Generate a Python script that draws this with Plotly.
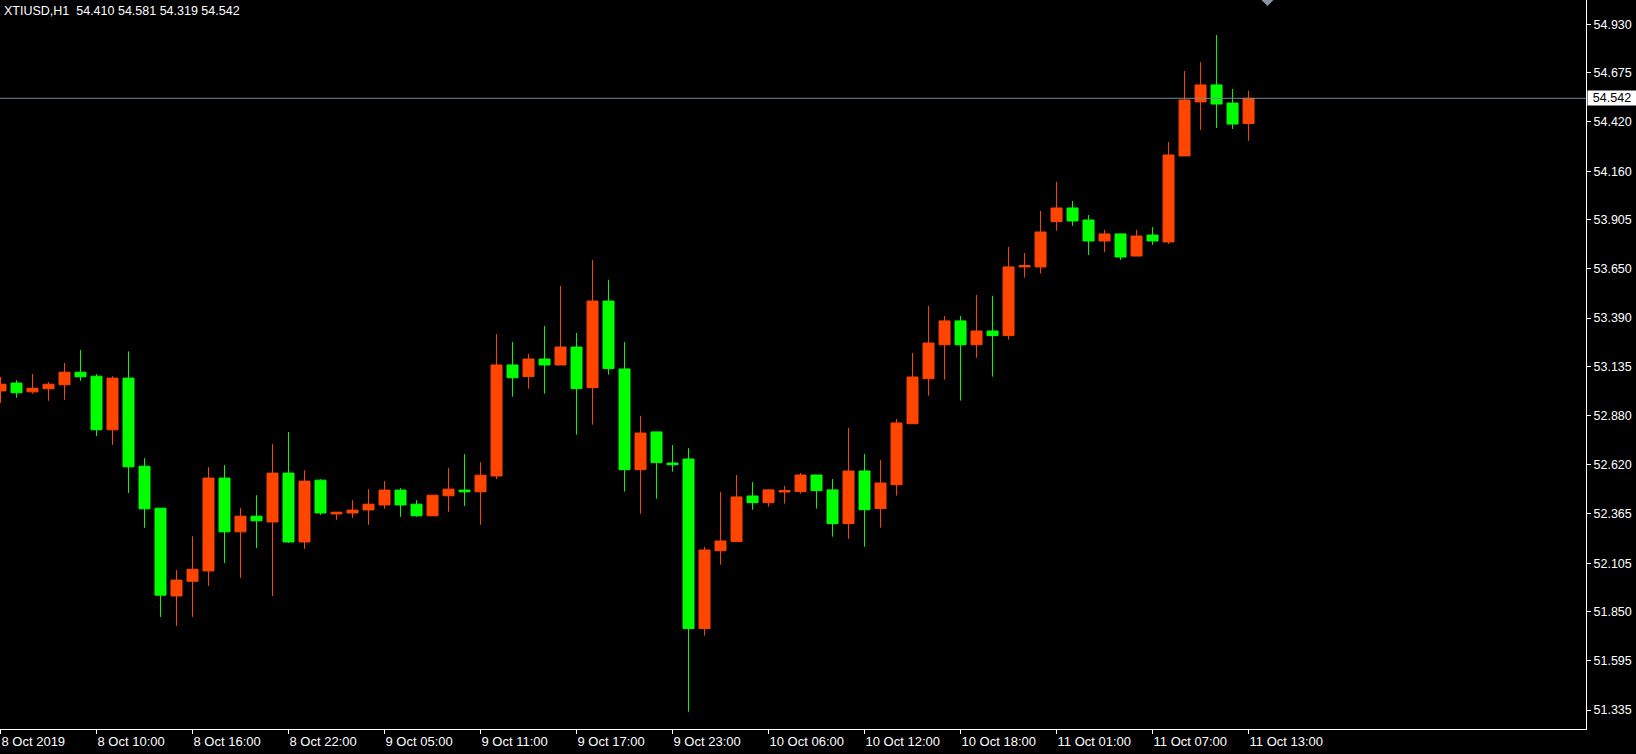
import plotly.graph_objects as go

symbol_title = "XTIUSD,H1  54.410 54.581 54.319 54.542"

open_ = [53.008, 53.049, 53.003, 53.019, 53.040, 53.106, 53.085, 52.804, 53.075, 52.613,
         52.393, 51.933, 52.010, 52.064, 52.551, 52.269, 52.351, 52.321, 52.577, 52.216,
         52.540, 52.363, 52.368, 52.384, 52.410, 52.488, 52.414, 52.353, 52.458, 52.488,
         52.479, 52.562, 53.144, 53.083, 53.175, 53.144, 53.238, 53.025, 53.479, 53.123,
         52.595, 52.793, 52.630, 52.651, 51.762, 52.170, 52.218, 52.457, 52.422, 52.478,
         52.480, 52.567, 52.489, 52.312, 52.588, 52.391, 52.516, 52.836, 53.072, 53.250,
         53.375, 53.250, 53.322, 53.298, 53.658, 53.658, 53.895, 53.967, 53.904, 53.794,
         53.831, 53.715, 53.825, 53.789, 54.240, 54.523, 54.612, 54.517, 54.410]
high = [53.080, 53.064, 53.096, 53.054, 53.154, 53.222, 53.096, 53.085, 53.215, 52.655,
        52.393, 52.068, 52.246, 52.608, 52.619, 52.393, 52.461, 52.729, 52.792, 52.592,
        52.545, 52.372, 52.435, 52.493, 52.535, 52.498, 52.435, 52.461, 52.603, 52.676,
        52.634, 53.306, 53.264, 53.202, 53.348, 53.558, 53.312, 53.694, 53.590, 53.264,
        52.877, 52.793, 52.724, 52.709, 52.190, 52.478, 52.567, 52.530, 52.494, 52.510,
        52.578, 52.567, 52.546, 52.814, 52.677, 52.646, 52.861, 53.207, 53.453, 53.401,
        53.401, 53.511, 53.506, 53.763, 53.731, 53.951, 54.103, 54.004, 53.930, 53.852,
        53.831, 53.852, 53.867, 54.313, 54.685, 54.732, 54.874, 54.591, 54.581]
low = [52.945, 52.972, 52.993, 52.956, 52.961, 53.061, 52.772, 52.725, 52.473, 52.290,
       51.823, 51.776, 51.823, 51.986, 52.106, 52.028, 52.185, 51.933, 52.211, 52.180,
       52.358, 52.332, 52.342, 52.306, 52.390, 52.348, 52.348, 52.353, 52.374, 52.405,
       52.306, 52.546, 52.978, 53.020, 52.994, 53.144, 52.779, 52.831, 53.093, 52.480,
       52.364, 52.443, 52.585, 51.326, 51.725, 52.097, 52.218, 52.385, 52.401, 52.417,
       52.469, 52.391, 52.244, 52.233, 52.191, 52.291, 52.459, 52.836, 52.983, 53.067,
       52.957, 53.182, 53.083, 53.277, 53.602, 53.623, 53.848, 53.873, 53.720, 53.736,
       53.694, 53.715, 53.773, 53.778, 54.240, 54.376, 54.386, 54.381, 54.319]
close = [53.043, 52.998, 53.022, 53.043, 53.106, 53.082, 52.804, 53.075, 52.610, 52.390,
         51.937, 52.016, 52.073, 52.551, 52.269, 52.351, 52.327, 52.577, 52.216, 52.535,
         52.368, 52.372, 52.383, 52.414, 52.488, 52.410, 52.353, 52.461, 52.493, 52.479,
         52.566, 53.144, 53.077, 53.175, 53.144, 53.238, 53.020, 53.479, 53.125, 52.595,
         52.787, 52.632, 52.621, 51.762, 52.174, 52.221, 52.452, 52.422, 52.489, 52.485,
         52.567, 52.485, 52.312, 52.588, 52.385, 52.525, 52.840, 53.081, 53.259, 53.375,
         53.250, 53.322, 53.298, 53.658, 53.665, 53.841, 53.967, 53.899, 53.794, 53.831,
         53.710, 53.820, 53.794, 54.245, 54.533, 54.612, 54.512, 54.407, 54.542]

bar_index = list(range(len(close)))

x_tick_bars = [0, 6, 12, 18, 24, 30, 36, 42, 48, 54, 60, 66, 72, 78]
x_tick_labels = ["8 Oct 2019", "8 Oct 10:00", "8 Oct 16:00", "8 Oct 22:00", "9 Oct 05:00",
                 "9 Oct 11:00", "9 Oct 17:00", "9 Oct 23:00", "10 Oct 06:00", "10 Oct 12:00",
                 "10 Oct 18:00", "11 Oct 01:00", "11 Oct 07:00", "11 Oct 13:00"]

y_tick_values = [54.930, 54.675, 54.420, 54.160, 53.905, 53.650, 53.390, 53.135,
                 52.880, 52.620, 52.365, 52.105, 51.850, 51.595, 51.335]
y_tick_labels = ["%.3f" % v for v in y_tick_values]

last_price = 54.542

UP = "#FF4500"
DOWN = "#00FF00"
FONT = "Liberation Sans, Arial, sans-serif"

fig = go.Figure()
fig.add_trace(go.Candlestick(
    x=bar_index, open=open_, high=high, low=low, close=close,
    increasing=dict(line=dict(color=UP, width=1), fillcolor=UP),
    decreasing=dict(line=dict(color=DOWN, width=1), fillcolor=DOWN),
    whiskerwidth=0, hoverinfo="skip", showlegend=False,
))

fig.add_hline(y=last_price, line=dict(color="#778899", width=1))

fig.add_annotation(
    text=symbol_title, xref="paper", yref="paper", x=0, y=1,
    xanchor="left", yanchor="top", xshift=2, yshift=-2, showarrow=False,
    font=dict(color="white", size=12.5, family=FONT),
)
fig.add_annotation(
    text="%.3f" % last_price, xref="paper", yref="y", x=1, y=last_price,
    xanchor="left", yanchor="middle", xshift=1, showarrow=False,
    bgcolor="white", borderpad=0, width=48, align="center",
    font=dict(color="black", size=12.5, family=FONT),
)

# chart-shift marker at top
fig.add_shape(type="path", xref="paper", yref="paper", xsizemode="pixel", ysizemode="pixel",
              xanchor=1267.5 / 1586, yanchor=1, path="M -6,0 L 6,0 L 0,-6 Z",
              fillcolor="#8a96a3", line=dict(width=0))

fig.update_layout(
    width=1636, height=754,
    margin=dict(l=0, r=50, t=0, b=25),
    paper_bgcolor="black", plot_bgcolor="black",
    boxgap=0.3125, boxgroupgap=0,
    showlegend=False,
    xaxis=dict(
        range=[-0.03125, 99.09], rangeslider=dict(visible=False),
        showgrid=False, zeroline=False,
        showline=True, linecolor="white", linewidth=1, mirror=True,
        tickmode="array", tickvals=x_tick_bars, ticktext=x_tick_labels,
        ticks="outside", ticklen=4, tickcolor="white",
        ticklabelposition="outside right",
        tickfont=dict(color="white", size=13, family=FONT),
    ),
    yaxis=dict(
        range=[51.2354, 55.0574], side="right",
        showgrid=False, zeroline=False,
        showline=True, linecolor="white", linewidth=1, mirror=True,
        tickmode="array", tickvals=y_tick_values, ticktext=y_tick_labels,
        ticks="outside", ticklen=4, tickcolor="white",
        tickfont=dict(color="white", size=12.5, family=FONT),
    ),
)

fig.write_html(
    "out.html",
    config={"displayModeBar": False},
    post_script="document.body.style.margin='0';document.body.style.background='black';",
)
